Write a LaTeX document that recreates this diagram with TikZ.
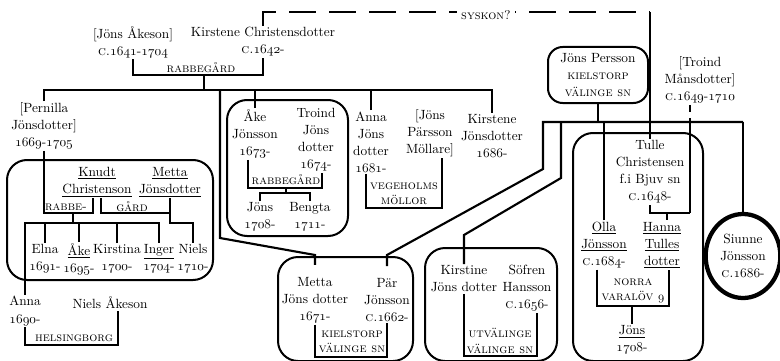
\documentclass[tikz,border=0pt]{standalone}
\usetikzlibrary{shapes.geometric}
\newcommand\os[1]{{\usefont{OML}{cmm}{m}{it}#1}}
\newcommand\und[1]{\underline{#1}}
\newcommand\scf{\fontsize{9.5}{11.5}\selectfont\scshape}
\begin{document}
\begin{tikzpicture}[x=0.75pt, y=-0.75pt,
  pers/.style={align=center, inner sep=1pt, font=\fontsize{10}{12.8}\selectfont},
  plc/.style={align=center, inner sep=0pt, font=\scf},
  ln/.style={line width=1.6pt},
  fam/.style={line width=1.5pt, rounded corners=15pt},
  syskon/.style={line width=1.6pt, dash pattern=on 20pt off 10pt}]
\useasboundingbox (0,0) rectangle (780,360);

\node[pers] (jaa) at (133,42) {[Jöns Åkeson]\\\textsc{c.}\os{1641}-\os{1704}};
\node[pers] (kc) at (263,42) {Kirstene Christensdotter\\\textsc{c.}\os{1642}-};
\node[plc] (rg1) at (201,68) {rabbegård};
\coordinate (m1) at (204,75);
\coordinate (c1) at (204,90);
\draw[ln] (jaa.south) |- (m1) -| (kc.south);
\draw[ln] (m1) -- (c1);

\coordinate (sk) at (650,12);
\draw[syskon] (kc.north) |- (sk);
\node[plc, fill=white, inner xsep=3pt, inner ysep=2pt] (sy) at (486,15) {syskon?};

\node[pers] (pern) at (44,126) {[Pernilla\\Jönsdotter]\\\os{1669}-\os{1705}};
\node[pers] (aj) at (255,134) {Åke\\Jönsson\\\os{1673}-};
\node[pers] (tjd) at (316,140) {Troind\\Jöns\\dotter\\\os{1674}-};
\node[pers] (ajd) at (371,142) {Anna\\Jöns\\dotter\\\os{1681}-};
\node[pers] (jpm) at (430,133) {[Jöns\\Pärsson\\Möllare]};
\node[pers] (kjd) at (492,136) {Kirstene\\Jönsdotter\\\os{1686}-};
\draw[ln] (pern.north) -- (pern.north |- c1) -- (kjd.north |- c1) -- (kjd.north);
\draw[ln] (aj.north) -- (aj.north |- c1);
\draw[ln] (ajd.north) -- (ajd.north |- c1);

\draw[fam] (7,160) rectangle (213,280);
\node[pers] (knc) at (97,182) {\und{Knudt}\\\und{Christenson}};
\node[pers] (mjn) at (170,182) {\und{Metta}\\\und{Jönsdotter}};
\node[plc] (rb) at (66,207) {rabbe-};
\node[plc] (gd) at (132,207) {gård};
\coordinate (r1) at (73,213);
\coordinate (r1c) at (73,223);
\coordinate (r2) at (170,213);
\draw[ln] (pern.south) |- (r1) -| ([xshift=-3pt]knc.south);
\draw[ln] ([xshift=3pt]knc.south) |- (r2) -- (mjn.south);
\draw[ln] (r1) -- (r1c);

\node[pers] (elna) at (45,259) {Elna\\\os{1691}-};
\node[pers] (ake2) at (79,259) {\und{Åke}\\\os{1695}-};
\node[pers] (kirstina) at (117,259) {Kirstina\\\os{1700}-};
\node[pers] (inger) at (159,259) {\und{Inger}\\\os{1704}-};
\node[pers] (niels) at (193,259) {Niels\\\os{1710}-};
\node[pers] (anna) at (25,311) {Anna\\\os{1690}-};
\draw[ln] (anna.north) -- (anna.north |- r1c) -- (inger.north |- r1c) -- (inger.north);
\foreach \c in {elna, ake2, kirstina}
  \draw[ln] (\c.north) -- (\c.north |- r1c);
\draw[ln] (r2) -- ++(0,10) -| (niels.north);

\node[pers] (nae) at (110,303) {Niels Åkeson};
\node[plc] (hbg) at (74,338) {helsingborg};
\coordinate (m8) at (73,345);
\draw[ln] (anna.south) |- (m8) -| ([xshift=6pt]nae.south);

\draw[fam] (227,100) rectangle (348,236);
\node[plc] (rg2) at (286,180) {rabbegård};
\coordinate (m2) at (286,188);
\coordinate (c2) at (286,193);
\draw[ln] ([xshift=-5.25pt]aj.south) |- (m2) -| ([xshift=4.5pt]tjd.south);
\draw[ln] (m2) -- (c2);
\node[pers] (jons2) at (260,217) {Jöns\\\os{1708}-};
\node[pers] (bengta) at (310,217) {Bengta\\\os{1711}-};
\draw[ln] (jons2.north) -- (jons2.north |- c2) -- (bengta.north |- c2) -- (bengta.north);

\node[plc] (veg) at (404,194) {vegeholms\\möllor};
\coordinate (m3) at (404,208);
\draw[ln] ([xshift=-3.75pt]ajd.south) |- (m3) -| ([xshift=9pt]jpm.south);

\draw[fam] (278,257) rectangle (413,361);
\node[pers] (mjd2) at (315,300) {Metta\\Jöns dotter\\\os{1671}-};
\node[pers] (pj) at (387,300) {Pär\\Jönsson\\\textsc{c.}\os{1662}-};
\node[plc] (kv) at (352,342) {kielstorp\\välinge sn};
\coordinate (m4) at (352,357);
\draw[ln] (mjd2.south) |- (m4) -| (pj.south);
\draw[ln, shorten <=8pt] (mjd2.north) -- (315,255) -- (220,238) -- (220,90);

\draw[fam] (425,248) rectangle (557,361);
\node[pers] (kjd2) at (464,279) {Kirstine\\Jöns dotter};
\node[pers] (sh) at (527,288) {Söfren\\Hansson\\\textsc{c.}\os{1656}-};
\node[plc] (uv) at (500,341) {utvälinge\\välinge sn};
\coordinate (m5) at (500,356);
\draw[ln] (kjd2.south) |- (m5) -| ([xshift=7.5pt]sh.south);

\node[pers, draw, line width=1.5pt, rounded corners=11pt, minimum width=75pt, minimum height=42pt] (jp) at (598,75) {Jöns Persson\\\scf kielstorp\\\scf välinge sn};
\node[pers] (tm) at (700,80) {[Troind\\Månsdotter]\\\textsc{c.}\os{1649}-\os{1710}};
\coordinate (pb1) at (543,122);
\coordinate (pb2) at (743,122);
\draw[ln] (jp.south) -- (jp.south |- pb1);
\draw[ln, shorten <=8pt] (pj.north) -- (387,255) -- (543,169) -- (pb1) -- (pb2);
\draw[ln] (kjd2.north) -- (464,235) -- (561,178) -- (561,122);

\draw[fam] (573,133) rectangle (703,361);
\node[pers] (tc) at (650,172) {Tulle\\Christensen\\f.i Bjuv sn\\\textsc{c.}\os{1648}-};
\draw[ln] (sk) -- (tc.north);
\node[pers] (olla) at (604,245) {\und{Olla}\\\und{Jönsson}\\\textsc{c.}\os{1684}-};
\node[pers] (hanna) at (662,245) {\und{Hanna}\\\und{Tulles}\\\und{dotter}};
\draw[ln] (olla.north) -- (olla.north |- pb1);
\coordinate (m6) at (667,213);
\coordinate (tt) at (690,213);
\draw[ln] (tc.south) |- (tt);
\draw[ln, dash pattern=on 5pt off 5pt on 200pt] (tt |- tm.south) -- (tt);
\draw[ln] (m6) -- (m6 |- hanna.north);
\node[plc] (nv) at (633,291) {norra\\varalöv \os{9}};
\node[pers] (jons4) at (632,340) {\und{Jöns}\\\os{1708}-};
\coordinate (m7) at (632,306);
\draw[ln] ([xshift=-5pt]olla.south) |- (m7) -| ([xshift=5pt]hanna.south);
\draw[ln] (m7) -- (jons4.north);

\node[pers, ellipse, draw, line width=3.2pt, minimum width=56pt, minimum height=63pt, inner sep=0pt] (siu) at (743,256) {Siunne\\Jönsson\\\textsc{c.}\os{1686}-};
\draw[ln] (pb2) -- (siu.north);
\end{tikzpicture}
\end{document}
